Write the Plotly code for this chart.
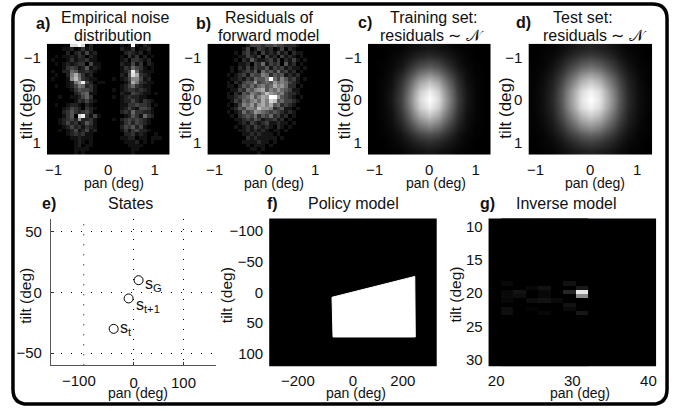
import plotly.graph_objects as go

W, H = 681, 411

# --- Data ---
noise_rows = [
"000000ddfd0200000001 01f102100000".replace(" ", ""),
"00001120131200000002113011200000",
"00000202314120000000232120100000",
"00101121320210000001031302010000",
"01000131223110000001203321200000",
"00101212330411000002114130210000",
"00001343125121000001326431010000",
"01002265223210000001 24e621110000".replace(" ", ""),
"0010027a631200000002 15da32100000".replace(" ", ""),
"0100018b732110000101248841200000",
"000001279e4201100000 13a732110000".replace(" ", ""),
"00100124762310000001246321100000",
"00000013544310000101233232100000",
"00000002356110000002114321101000",
"00010011246300000101232211000000",
"00000001324210000001224213210000",
"00100122102100000001133433201000",
"00001243203210000001242144310000",
"00002353234200000002326332210000",
"00001350ce3141000000125316320000"[:32],
"00012342822310000102343432100000",
"00012423125310000001342432100000",
"00001242313210000002435241000000",
"00010124124120000001313422100000",
"00000123231100000000223121001000",
"00000011211100000001122011011100",
"00000001210100000000111201010000",
"00000001201100000000011110000000",
"00000001111000000000001100000000",
"00000001010000000000001000000000",
]
forward_rows = [
"00000000001333233433222100000000",
"00000000013013212013021000000000",
"00000001023120312131202110000000",
"00000000113213031203121010000000",
"00000001021421123130213101000000",
"00000000112032513230412010000000",
"00000010213132241323121101000000",
"00000010123241534252312010000000",
"00000101231433652434121200000000",
"0000001121325446e536423101000000",
"00000102134473454756532100000000",
"00000110243535645867522010000000",
"00000011325467846575431100000000",
"00000102143654697656322100000000",
"0000011234574687cf74321010000000",
"0000001325467586a945332100000000",
"00000101365747868452321000000000",
"00000012436659776234110100000000",
"00000101253476543432121000000000",
"00000010234352435231201000000000",
"00000001123243122312010000000000",
"00000000121321231121101000000000",
"00000001012132121021010000000000",
"00000000112121210110100000000000",
"00000000011212111010000000000000",
"00000000002121111101000000000000",
"00000000011112110100000000000000",
"00000000001011101000000000000000",
"00000000000110100000000000000000",
"00000000000001000000000000000000",
]
train_grid = [
[0,0,1,2,5,7,9,7,5,2,1,0,0],
[0,0,2,5,10,15,18,15,10,5,2,0,0],
[0,1,3,8,18,28,33,28,18,8,3,1,0],
[0,1,5,14,29,46,54,46,29,14,5,1,0],
[0,2,6,19,41,65,76,65,41,19,6,2,0],
[0,2,8,23,50,80,93,80,50,23,8,2,0],
[0,2,9,25,54,86,100,86,54,25,9,2,0],
[0,2,8,23,50,80,93,80,50,23,8,2,0],
[0,2,6,19,41,65,76,65,41,19,6,2,0],
[0,1,5,14,29,46,54,46,29,14,5,1,0],
[0,1,3,8,18,28,33,28,18,8,3,1,0],
[0,0,2,5,10,15,18,15,10,5,2,0,0],
[0,0,1,2,5,7,9,7,5,2,1,0,0],
]
test_grid = [
[0,1,2,5,9,12,14,12,9,5,2,1,0],
[0,2,4,9,16,22,25,22,16,9,4,2,0],
[1,2,7,15,26,36,41,36,26,15,7,2,1],
[1,4,10,22,38,54,61,54,38,22,10,4,1],
[1,5,13,29,50,71,80,71,50,29,13,5,1],
[2,6,15,34,60,85,95,85,60,34,15,6,2],
[2,6,16,36,63,89,100,89,63,36,16,6,2],
[2,6,15,34,60,85,95,85,60,34,15,6,2],
[1,5,13,29,50,71,80,71,50,29,13,5,1],
[1,4,10,22,38,54,61,54,38,22,10,4,1],
[1,2,7,15,26,36,41,36,26,15,7,2,1],
[0,2,4,9,16,22,25,22,16,9,4,2,0],
[0,1,2,5,9,12,14,12,9,5,2,1,0],
]
state_pan = [-40, -10, 10]
state_tilt = [-30, -5, 10]
state_text = ["s<sub>t</sub>", "s<sub>t+1</sub>", "s<sub>G</sub>"]
state_shift = [(12, 0), (19, 7), (15, 4)]

policy_pan = [-84, 248, 250, -80, -84]
policy_tilt = [8, -26, 73, 73, 8]

inv_cols = [6, 6, 6, 6, 5, 5, 5, 5, 4, 3, 3, 3, 3, 3, 2, 2, 2, 1, 1, 0, 0, 0, 0, 0, 0]
inv_rows = [0, 1, -1, 5, -2, 0, 3, 4, 2, -1, 2, 0, 1, 5, -1, 2, 4, 0, 1, -2, 0, 1, 2, 4, 5]
inv_vals = [.90, .55, .10, .09, .07, .15, .07, .04, .04, .07, .07, .03, .03, .03, .03, .05, .02, .07, .05, .03, .03, .04, .03, .06, .06]

pan_ticks_small = [0, 1]
tilt_ticks_small = [-1, 0, 1]

# --- Layout helpers ---
def fx(p): return p / W
def fy(p): return 1 - p / H

GRAY = [[0, "black"], [1, "white"]]
FONT = "Liberation Sans, Arial, sans-serif"
fig = go.Figure()

def axes(i, x0, x1, y0, y1, xr, yr, xt, xl, yt, yl):
    fig.update_layout(**{
        f"xaxis{i}": dict(domain=[fx(x0), fx(x1)], range=xr, anchor=f"y{i}", tickvals=xt, ticktext=xl,
                          showgrid=False, zeroline=False, ticks="", ticklabelstandoff=4,
                          tickfont=dict(size=15, color="#111"), showline=False),
        f"yaxis{i}": dict(domain=[fy(y1), fy(y0)], range=yr, anchor=f"x{i}", tickvals=yt, ticktext=yl,
                          showgrid=False, zeroline=False, ticks="", ticklabelstandoff=5,
                          tickfont=dict(size=15, color="#111"), showline=False),
    })

def left_tick(i, value, text, y, shift):
    # the leftmost pan label sits left of its tick in the reference
    fig.add_annotation(x=value, y=fy(y), xref=f"x{i}", yref="paper", text=text, showarrow=False,
                       xanchor="center", yanchor="middle", xshift=shift,
                       font=dict(size=15, color="#111", family=FONT))

small_y_labels = ["\u22121", "0", "1"]
XR = [-1.32, 1.32]
YR = [1.28, -1.32]

panels = [(46, 169), (207, 330), (368, 491), (529, 653)]
for i, (a, b) in enumerate(panels, start=1):
    axes(i, a, b, 43, 155, XR, YR, pan_ticks_small, ["0", "1"], tilt_ticks_small, small_y_labels)
    left_tick(i, -1, "\u22121", 170, -8)

def add_hex(rows, i, top=1.0):
    z = [[int(c, 16) / 15 for c in r.ljust(32, "0")[:32]] for r in rows]
    dx = (XR[1] - XR[0]) / 32
    dy = (YR[0] - YR[1]) / len(rows)
    fig.add_trace(go.Heatmap(z=z, x0=XR[0] + dx / 2, dx=dx, y0=YR[1] + dy / 2, dy=dy,
                             colorscale=GRAY, zmin=0, zmax=top, showscale=False,
                             xaxis=f"x{i}", yaxis=f"y{i}", hoverinfo="skip"))

def add_smooth(grid, i):
    n = len(grid)
    dx = (XR[1] - XR[0]) / n
    dy = (YR[0] - YR[1]) / n
    fig.add_trace(go.Heatmap(z=grid, x0=XR[0] + dx / 2, dx=dx, y0=YR[1] + dy / 2, dy=dy,
                             colorscale=GRAY, zmin=0, zmax=100, showscale=False, zsmooth="best",
                             xaxis=f"x{i}", yaxis=f"y{i}", hoverinfo="skip"))

add_hex(noise_rows, 1)
add_hex(forward_rows, 2, top=0.8)
add_smooth(train_grid, 3)
add_smooth(test_grid, 4)

# e) States
axes(5, 50, 216, 220, 367, [-166, 166], [-60, 60], [0, 100], ["0", "100"],
     [-50, 0, 50], ["\u221250", "0", "50"])
left_tick(5, -100, "\u2212100", 382, -5)
GRID = dict(showgrid=True, griddash="1px,9px", gridcolor="#000", gridwidth=1, showline=True,
            linecolor="#555", linewidth=1, ticks="inside", ticklen=3, tickcolor="#333")
fig.update_layout(xaxis5=GRID, yaxis5=GRID)
fig.add_trace(go.Scatter(x=state_pan, y=state_tilt, mode="markers", xaxis="x5", yaxis="y5",
                         marker=dict(symbol="circle-open", size=9, color="#000", line=dict(width=1, color="#000")),
                         hoverinfo="skip", showlegend=False))
for px_, ty, t, (sx, sy) in zip(state_pan, state_tilt, state_text, state_shift):
    fig.add_annotation(x=px_, y=ty, xref="x5", yref="y5", text=t, showarrow=False, xshift=sx, yshift=-sy,
                       font=dict(size=16, color="#111", family=FONT))
# the vertical grid line at pan = -100 has no native tick in this axis
fig.add_shape(type="line", xref="x5", yref="y5", x0=-100, x1=-100, y0=-60, y1=60,
              line=dict(color="#000", width=1, dash="1px,9px"))

# f) Policy model
axes(6, 269, 437, 219, 368, [-336, 336], [121, -121], [0, 200], ["0", "200"],
     [-100, -50, 0, 50, 100], ["\u2212100", "\u221250", "0", "50", "100"])
left_tick(6, -200, "\u2212200", 382, -5)
fig.add_trace(go.Scatter(x=policy_pan, y=policy_tilt, mode="lines", fill="toself", fillcolor="white",
                         line=dict(color="white", width=1), xaxis="x6", yaxis="y6",
                         hoverinfo="skip", showlegend=False))

# g) Inverse model
axes(7, 489, 657, 219, 368, [19, 41], [31, 8.8], [20, 30, 40], ["20", "30", "40"],
     [10, 15, 20, 25, 30], ["10", "15", "20", "25", "30"])
n_r, n_c, r0 = 35, 7, 17
g = [[0.0] * n_c for _ in range(n_r)]
for c, r, v in zip(inv_cols, inv_rows, inv_vals):
    g[r0 + r][c] = v
fig.add_trace(go.Heatmap(z=g, x0=21.46, dx=1.637, y0=8.97, dy=0.64, colorscale=GRAY, zmin=0, zmax=1,
                         showscale=False, xaxis="x7", yaxis="y7", hoverinfo="skip"))

# black plot backgrounds for the two panels that a heatmap does not fill
for i in (6, 7):
    fig.add_shape(type="rect", xref=f"x{i} domain", yref=f"y{i} domain", x0=0, x1=1, y0=0, y1=1,
                  fillcolor="black", line=dict(width=0), layer="below")

# --- Texts ---
def label(x, y, text, size=16, bold=False, angle=0):
    fig.add_annotation(x=fx(x), y=fy(y), xref="paper", yref="paper", text=f"<b>{text}</b>" if bold else text,
                       showarrow=False, textangle=angle, xanchor="center", yanchor="middle",
                       font=dict(size=size, color="#111", family=FONT))

title_lines = [
    (115, 17, "Empirical noise"), (112, 35, "distribution"),
    (269, 17, "Residuals of"), (268, 35, "forward model"),
    (434, 17, "Training set:"), (432, 35, "residuals \u223c \U0001d4a9"),
    (584, 17, "Test set:"), (596, 35, "residuals \u223c \U0001d4a9"),
    (130, 204, "States"), (354, 204, "Policy model"), (567, 204, "Inverse model"),
]
for x, y, t in title_lines:
    label(x, y, t)

letters = [(42, 23, "a)"), (203, 23, "b)"), (365, 22, "c)"), (524, 22, "d)"),
           (48, 204, "e)"), (272, 204, "f)"), (488, 204, "g)")]
for x, y, t in letters:
    label(x, y, t, bold=True)

for x, y in [(113, 183), (274, 183), (436, 183), (596, 183), (137, 395), (356, 395), (581, 395)]:
    label(x, y, "pan (deg)", size=14)
for x, y, s in [(25, 108, 17), (185, 108, 17), (344, 108, 17), (506, 108, 17), (25, 297, 15.5), (227, 296, 15.5), (456, 296, 15.5)]:
    label(x, y, "tilt (deg)", size=s, angle=-90)

# --- Rounded frame ---
L, T, R, B, C = 12, 3, 668, 406, 15
path = (f"M {fx(L+C)} {fy(T)} L {fx(R-C)} {fy(T)} Q {fx(R)} {fy(T)} {fx(R)} {fy(T+C)} "
        f"L {fx(R)} {fy(B-C)} Q {fx(R)} {fy(B)} {fx(R-C)} {fy(B)} "
        f"L {fx(L+C)} {fy(B)} Q {fx(L)} {fy(B)} {fx(L)} {fy(B-C)} "
        f"L {fx(L)} {fy(T+C)} Q {fx(L)} {fy(T)} {fx(L+C)} {fy(T)} Z")
fig.add_shape(type="path", path=path, xref="paper", yref="paper", line=dict(color="#000", width=3.5))

fig.update_layout(width=W, height=H, margin=dict(l=0, r=0, t=0, b=0), paper_bgcolor="white",
                  plot_bgcolor="white", showlegend=False, font=dict(family=FONT, color="#111"))
fig.write_html("out.html", config={"displayModeBar": False},
               post_script="document.body.style.margin='0';document.body.style.overflow='hidden';")
